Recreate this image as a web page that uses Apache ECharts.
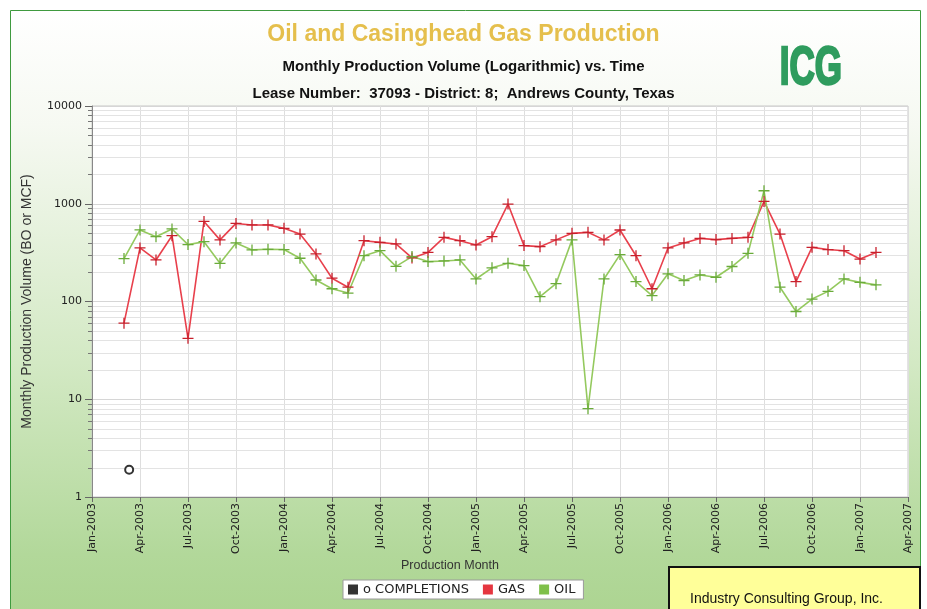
<!DOCTYPE html>
<html>
<head>
<meta charset="utf-8">
<script src="https://cdn.jsdelivr.net/npm/echarts@6/dist/echarts.min.js"></script>
<style>
  html, body { margin: 0; padding: 0; background: #fff; }
  #chart { width: 927px; height: 609px; }
</style>
</head>
<body>
<div id="chart"></div>
<script>
// production months (first of month)
const months = [
  '2003-03', '2003-04', '2003-05', '2003-06', '2003-07', '2003-08', '2003-09', '2003-10', '2003-11', '2003-12',
  '2004-01', '2004-02', '2004-03', '2004-04', '2004-05', '2004-06', '2004-07', '2004-08', '2004-09', '2004-10', '2004-11', '2004-12',
  '2005-01', '2005-02', '2005-03', '2005-04', '2005-05', '2005-06', '2005-07', '2005-08', '2005-09', '2005-10', '2005-11', '2005-12',
  '2006-01', '2006-02', '2006-03', '2006-04', '2006-05', '2006-06', '2006-07', '2006-08', '2006-09', '2006-10', '2006-11', '2006-12',
  '2007-01', '2007-02'
]
// gas (MCF)
const gas = [
  60, 353, 266, 471, 42, 659, 427, 629, 607, 607,
  560, 490, 307, 173, 140, 419, 403, 388, 279, 318, 453, 419,
  379, 460, 993, 373, 364, 427, 498, 510, 427, 539, 294, 135,
  353, 397, 442, 430, 442, 453, 1055, 490, 160, 358, 340, 331,
  272, 318
]
// oil (BO)
const oil = [
  275, 540, 460, 552, 382, 409, 246, 397, 337, 342,
  340, 277, 166, 135, 122, 294, 331, 229, 288, 256, 260, 266,
  170, 221, 246, 233, 112, 152, 427, 8, 170, 302, 160, 115,
  192, 164, 187, 177, 228, 311, 1358, 140, 79, 106, 127, 170,
  157, 148
]
// completions
const completionDates = ['2003-03-11']
const completionValues = [1.9]

// axis labels
const monthNames = ['Jan', 'Feb', 'Mar', 'Apr', 'May', 'Jun', 'Jul', 'Aug', 'Sep', 'Oct', 'Nov', 'Dec']
const startYear = 2003
const decades = [1, 10, 100, 1000]
const minorSteps = [2, 3, 4, 5, 6, 7, 8, 9]

// month index since Jan-2003
const toIndex = s => {
  const p = s.split('-').map(Number)
  const day = p[2] ? (p[2] - 1) / 31 : 0
  return (p[0] - startYear) * 12 + (p[1] - 1) + day
}

// log-paper minor lines (2..9 in each decade)
const minorLines = []
decades.forEach(d => minorSteps.forEach(s => minorLines.push([0, d * s])))

const plus = 'path://M-0.7,-6H0.7V-0.7H6V0.7H0.7V6H-0.7V0.7H-6V-0.7H-0.7Z'
const narrow = '"Liberation Sans Narrow", "Liberation Sans", Arial, sans-serif'

const chart = echarts.init(document.getElementById('chart'))

const options = {
  backgroundColor: '#ffffff',
  animation: false,
  graphic: [
    {
      type: 'rect', z: -10, silent: true,
      shape: {x: 10.5, y: 10.5, width: 910, height: 640},
      style: {
        stroke: '#3f9a3f', lineWidth: 1,
        fill: {
          type: 'linear', x: 0, y: 0, x2: 0, y2: 1,
          colorStops: [
            {offset: 0, color: '#ffffff'},
            {offset: 0.18, color: '#f6f9f2'},
            {offset: 0.55, color: '#d3e9c4'},
            {offset: 0.85, color: '#b2d89a'},
            {offset: 1, color: '#a9d28c'}
          ]
        }
      }
    },
    {
      type: 'text', left: 779, top: 42, z: 5,
      scaleX: 0.66,
      style: {text: 'ICG', fill: '#2f9c5e', stroke: '#2f9c5e', lineWidth: 2.5, font: 'bold 53px ' + narrow}
    },
    {
      type: 'text', left: 401, top: 559,
      style: {text: 'Production Month', fill: '#333', font: '12.5px "Liberation Sans", Arial, sans-serif'}
    },
    {
      type: 'rect', z: 5,
      shape: {x: 669, y: 567, width: 251, height: 60},
      style: {fill: '#ffff99', stroke: '#111', lineWidth: 2}
    },
    {
      type: 'text', left: 690, top: 592, z: 6,
      style: {text: 'Industry Consulting Group, Inc.', fill: '#111', font: '14px ' + narrow}
    }
  ],
  title: [
    {
      text: 'Oil and Casinghead Gas Production',
      left: 'center', top: 18,
      textStyle: {color: '#e5bf4c', fontSize: 23, fontWeight: 'bold', fontFamily: 'Liberation Sans'}
    },
    {
      text: 'Monthly Production Volume (Logarithmic) vs. Time',
      left: 'center', top: 54,
      textStyle: {color: '#111', fontSize: 15, fontWeight: 'bold', fontFamily: narrow}
    },
    {
      text: 'Lease Number:  37093 - District: 8;  Andrews County, Texas',
      left: 'center', top: 81,
      textStyle: {color: '#111', fontSize: 15, fontWeight: 'bold', fontFamily: narrow}
    }
  ],
  legend: {
    left: 343, top: 580,
    backgroundColor: '#ffffff',
    borderColor: '#9a9a9a', borderWidth: 1, borderRadius: 0,
    padding: [3, 8, 3, 5],
    itemWidth: 10, itemHeight: 10, itemGap: 14,
    textStyle: {fontSize: 13, color: '#222', fontFamily: 'DejaVu Sans'},
    data: [
      {name: 'o COMPLETIONS', icon: 'rect', itemStyle: {color: '#000', borderWidth: 0}},
      {name: 'GAS', icon: 'rect', itemStyle: {color: '#e53640'}},
      {name: 'OIL', icon: 'rect', itemStyle: {color: '#7fc04a'}}
    ]
  },
  grid: {
    left: 92, right: 19, top: 106, bottom: 112,
    show: true, backgroundColor: '#ffffff', borderColor: '#c8c8c8', borderWidth: 1
  },
  xAxis: {
    type: 'value',
    min: 0, max: 51, interval: 3,
    axisLine: {show: true, lineStyle: {color: '#888'}},
    axisTick: {show: true, length: 5, lineStyle: {color: '#666'}},
    splitLine: {show: true, lineStyle: {color: '#dedede'}},
    axisLabel: {
      rotate: 90, fontSize: 11, color: '#222', fontFamily: 'DejaVu Sans', margin: 6,
      formatter: v => monthNames[v % 12] + '-' + (startYear + Math.floor(v / 12))
    }
  },
  yAxis: {
    type: 'log', logBase: 10,
    min: 1, max: 10000,
    name: 'Monthly Production Volume (BO or MCF)',
    nameLocation: 'middle', nameGap: 58,
    nameTextStyle: {fontSize: 14, color: '#333', fontFamily: 'Liberation Sans'},
    axisLine: {show: true, lineStyle: {color: '#888'}},
    axisTick: {show: true, length: 7, lineStyle: {color: '#666'}},
    splitLine: {show: true, lineStyle: {color: '#d6d6d6'}},
    axisLabel: {fontSize: 11, color: '#222', fontFamily: 'DejaVu Sans', margin: 10, formatter: v => String(v)}
  },
  series: [
    {
      name: '_minor',
      type: 'custom',
      silent: true, clip: false, z: 0,
      data: minorLines,
      renderItem: (params, api) => {
        const v = api.value(1)
        const a = api.coord([0, v])
        const b = api.coord([51, v])
        const y = Math.round(a[1]) + 0.5
        return {
          type: 'group',
          children: [
            {type: 'line', shape: {x1: a[0], y1: y, x2: b[0], y2: y}, style: {stroke: '#e3e3e3', lineWidth: 1}},
            {type: 'line', shape: {x1: a[0] - 4, y1: y, x2: a[0], y2: y}, style: {stroke: '#777', lineWidth: 1}}
          ]
        }
      }
    },
    {
      name: 'o COMPLETIONS',
      type: 'scatter',
      symbol: 'emptyCircle', symbolSize: 8,
      itemStyle: {color: '#000', borderWidth: 1.5},
      data: completionDates.map((d, i) => [toIndex(d), completionValues[i]])
    },
    {
      name: 'GAS',
      type: 'line',
      symbol: plus, symbolSize: 11,
      itemStyle: {color: '#c8202c'},
      lineStyle: {color: '#e8404c', width: 1.6},
      data: months.map((m, i) => [toIndex(m), gas[i]])
    },
    {
      name: 'OIL',
      type: 'line',
      symbol: plus, symbolSize: 11,
      itemStyle: {color: '#6aab3a'},
      lineStyle: {color: '#94c95e', width: 1.6},
      data: months.map((m, i) => [toIndex(m), oil[i]])
    }
  ]
}

chart.setOption(options)
</script>
</body>
</html>
